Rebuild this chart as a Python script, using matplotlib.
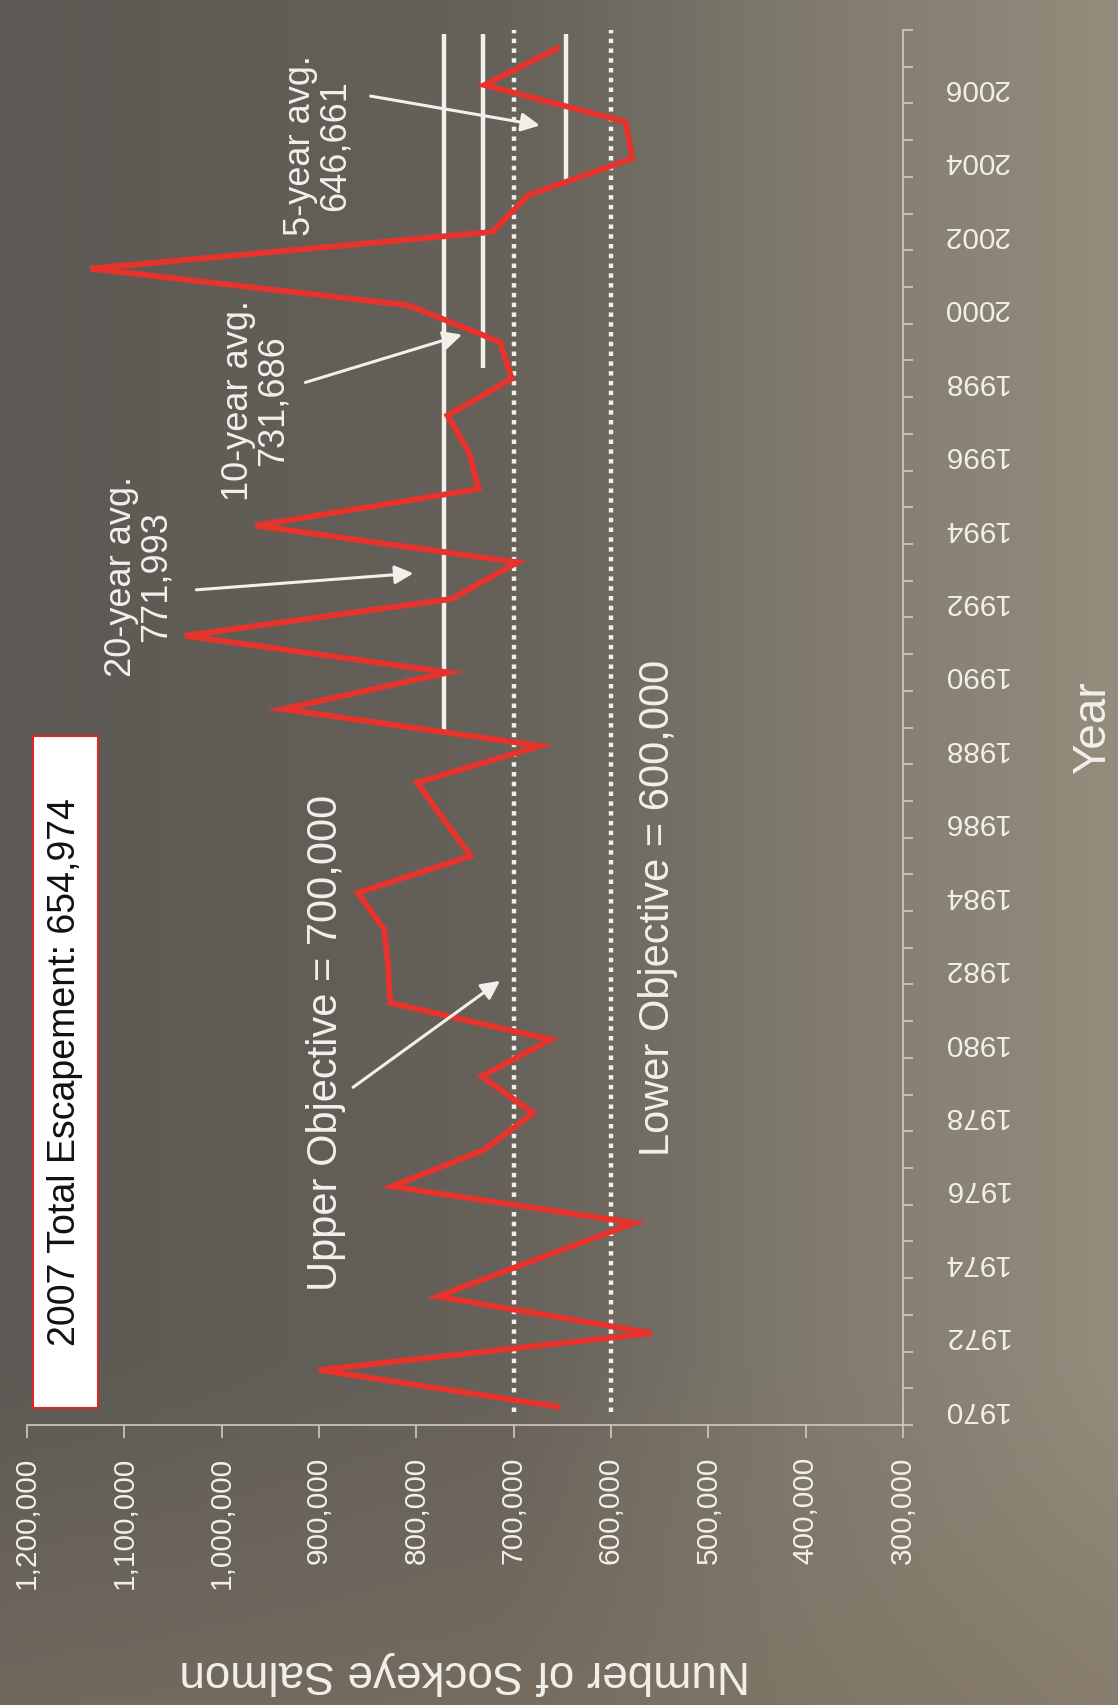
import matplotlib; matplotlib.use('Agg')
import numpy as np
from matplotlib import pyplot as plt
from matplotlib.patches import Rectangle
from matplotlib.ticker import FuncFormatter, MultipleLocator

plt.rcParams.update({
    'font.family': ['Liberation Sans', 'DejaVu Sans'],
})

TXT = '#f2f0ea'   # white-ish text
AXC = '#cfcbc0'   # light axis grey
RED = '#e8332d'

# Sockeye escapement by year
years = list(range(1970, 2008))
escapement = [655000, 900000, 558000, 778000, 678000, 576000, 825000, 730000,
              680000, 733000, 662000, 827000, 829000, 833000, 860000, 744000,
              772000, 799000, 673000, 937000, 767000, 1038000, 764000, 696000,
              965000, 736000, 746000, 768000, 702000, 714000, 808000, 1135000,
              722000, 685000, 578000, 585000, 730000, 654974]

avg_values = [771993, 731686, 646661]
avg_first_year = [1988, 1998, 2003]
avg_labels = ['20-year avg.\n771,993', '10-year avg.\n731,686', '5-year avg.\n646,661']

objectives = [700000, 600000]
objective_labels = ['Upper Objective = 700,000', 'Lower Objective = 600,000']

value_ticks = [300000, 400000, 500000, 600000, 700000, 800000, 900000,
               1000000, 1100000, 1200000]
year_ticks = list(range(1970, 2008, 2))

title = '2007 Total Escapement: 654,974'

W, H = 1118, 1705
fig = plt.figure(figsize=(W / 100, H / 100), dpi=100)

# photographed-slide background
bg = fig.add_axes([0, 0, 1, 1], zorder=-1)
xs = np.linspace(0, 1, 200)
ys = np.linspace(0, 1, 300)
xp = [0, 0.45, 0.72, 1]
cols = np.array([(0.36, 0.35, 0.33), (0.40, 0.38, 0.35),
                 (0.50, 0.48, 0.43), (0.58, 0.55, 0.49)])
row = np.stack([np.interp(xs, xp, cols[:, c]) for c in range(3)], axis=-1)
img = np.repeat(row[None, :, :], len(ys), axis=0)
fade = np.clip((ys - 0.80) / 0.20, 0, 1)[:, None, None]
img = img * (1 - 0.6 * fade) + np.array([0.50, 0.45, 0.39]) * 0.6 * fade
bg.imshow(img, aspect='auto', extent=[0, 1, 0, 1], origin='upper')
bg.axis('off')

# chart is drawn turned a quarter turn: values run right-to-left, years upward
ax = fig.add_axes([27 / W, (H - 1425) / H, (903 - 27) / W, (1425 - 30) / H])
ax.set_facecolor('none')

ax.plot(escapement, years, color=RED, lw=4.2, solid_joinstyle='miter', zorder=4)

for v in objectives:
    ax.vlines(v, 1969.85, 2007.6, color=TXT, lw=3.2, linestyles=(0, (1, 1.2)), zorder=3)

for v, y0 in zip(avg_values, avg_first_year):
    ax.vlines(v, y0 + 0.3, years[-1] + 0.4, color=TXT, lw=3.2, zorder=3)

ax.set_xlim(1200000, 300000)
ax.set_ylim(1969.5, 2007.5)

for s in ['top', 'left']:
    ax.spines[s].set_visible(False)
for s in ['bottom', 'right']:
    ax.spines[s].set_color(AXC)
    ax.spines[s].set_linewidth(1.2)

ax.set_xticks(value_ticks)
ax.xaxis.set_major_formatter(FuncFormatter(lambda v, p: f'{v:,.0f}'))
ax.tick_params(axis='x', direction='out', length=9, width=1.2, color=AXC,
               labelcolor=TXT, labelsize=21.5, labelrotation=90, pad=14)

ax.yaxis.tick_right()
ax.set_yticks(year_ticks)
ax.yaxis.set_minor_locator(MultipleLocator(1, offset=0.5))
ax.tick_params(axis='y', which='major', length=0, labelcolor=TXT,
               labelsize=21.5, labelrotation=180, pad=28)
ax.tick_params(axis='y', which='minor', direction='out', length=7, width=1.2, color=AXC)

ax.set_xlabel('Number of Sockeye Salmon', color=TXT, fontsize=33, rotation=180, va='center')
ax.xaxis.set_label_coords(0.5, -0.178)
ax.yaxis.set_label_position('right')
ax.set_ylabel('Year', color=TXT, fontsize=33, rotation=90, va='center')
ax.yaxis.set_label_coords(1.217, 0.5)

# title box
ax.add_patch(Rectangle((0.0068, 0.0124), 0.0742, 0.4813, transform=ax.transAxes,
                       facecolor='white', edgecolor='#d8282a', lw=1.5, zorder=5,
                       clip_on=False))
ax.text(0.0434, 0.253, title, transform=ax.transAxes, rotation=90,
        ha='center', va='center', fontsize=27, color='#111111', zorder=6)

# objective labels and arrow
ax.text(893000, 1979.9, objective_labels[0], rotation=90, ha='center', va='center',
        fontsize=30, color=TXT, zorder=6)
ax.text(552000, 1983.6, objective_labels[1], rotation=90, ha='center', va='center',
        fontsize=30, color=TXT, zorder=6)
arrow = dict(arrowstyle='-|>', color=TXT, lw=2.2, mutation_scale=28, shrinkA=0, shrinkB=0)
ax.annotate('', xy=(714000, 1981.6), xytext=(865000, 1978.7), arrowprops=arrow, zorder=6)

# average labels and arrows
label_pos = [(1085000, 1992.6), (965000, 1997.4), (901000, 2004.35)]
arrow_from = [(1026000, 1992.25), (914000, 1997.9), (847000, 2005.7)]
arrow_to = [(803000, 1992.7), (753000, 1999.2), (673000, 2004.9)]
for lab, p, a, b in zip(avg_labels, label_pos, arrow_from, arrow_to):
    ax.text(p[0], p[1], lab, rotation=90, ha='center', va='center',
            multialignment='center', fontsize=26, color=TXT, zorder=6, linespacing=1.0)
    ax.annotate('', xy=b, xytext=a, arrowprops=arrow, zorder=6)

fig.savefig('out.png', dpi=100)
plt.close()
